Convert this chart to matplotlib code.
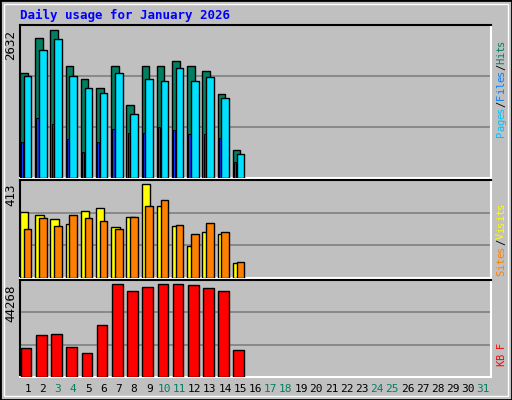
import matplotlib
matplotlib.use("Agg")
import matplotlib.pyplot as plt
import numpy as np

days = list(range(1, 32))
hits  = [1867, 2490, 2632, 1992, 1761, 1600, 1992, 1298, 1992, 1992, 2081, 1992, 1903, 1494, 498]
files = [1814, 2276, 2472, 1814, 1600, 1512, 1867, 1138, 1761, 1725, 1956, 1725, 1796, 1423, 427]
pages = [640, 1067, 960, 694, 462, 640, 871, 800, 800, 907, 854, 782, 782, 711, 285]
visits = [292, 278, 261, 238, 296, 309, 225, 269, 413, 318, 230, 141, 203, 194, 65]
sites  = [216, 265, 230, 278, 265, 252, 216, 269, 318, 341, 234, 194, 243, 203, 70]
kbytes = [13800, 20060, 20540, 14290, 11400, 24870, 44268, 40750, 42680, 44268, 44268, 43640, 42200, 40750, 12850]
weekend = {3, 4, 10, 11, 17, 18, 24, 25, 31}

W, H = 512, 400
fig = plt.figure(figsize=(W/100, H/100), dpi=100, facecolor="#c0c0c0")
mono = "DejaVu Sans Mono"

fig.add_artist(plt.Rectangle((0, 0), 1, 1, transform=fig.transFigure, fill=False, ec="black", lw=2))
fig.add_artist(plt.Rectangle((4/W, 4/H), 1-8/W, 1-8/H, transform=fig.transFigure, fill=False, ec="white", lw=1))
fig.text(20/W, 1-15/H, "Daily usage for January 2026", color="#0000ff", fontsize=9,
         fontweight="bold", family=mono, va="center")

def mkax(top, bottom):
    ax = fig.add_axes([20/W, 1-bottom/H, 471/W, (bottom-top)/H])
    ax.set_facecolor("#c0c0c0")
    ax.set_xlim(0.5, 31.5)
    ax.set_xticks([])
    ax.set_yticks([])
    for name, s in ax.spines.items():
        s.set_color("white" if name in ("right", "bottom") else "black")
        s.set_linewidth(1.5)
    return ax

def setup(ax, maxval, hpx, toppx, label):
    ylim = maxval * hpx / (hpx - toppx)
    ax.set_ylim(0, ylim)
    for f in (1/3, 2/3):
        ax.axhline(ylim*f, color="#808080", lw=1.2, zorder=1)
    ax.text(-0.006, 1-toppx/hpx, label, transform=ax.transAxes, rotation=90, ha="right",
            va="top", fontsize=9, family=mono)

x = np.arange(1, 16)
ax1 = mkax(25, 178)
setup(ax1, 2632, 153, 5, "2632")
ax1.bar(x-0.5, hits, width=0.5, align="edge", color="#008060", edgecolor="black", lw=1, zorder=3)
ax1.bar(x-0.42, pages, width=0.15, align="edge", color="#0040ff", edgecolor="black", lw=0.7, zorder=4)
ax1.bar(x-0.25, files, width=0.5, align="edge", color="#00e0ff", edgecolor="black", lw=1, zorder=5)

ax2 = mkax(180, 278)
setup(ax2, 413, 98, 4, "413")
ax2.bar(x-0.5, visits, width=0.55, align="edge", color="#ffff00", edgecolor="black", lw=1, zorder=3)
ax2.bar(x-0.25, sites, width=0.5, align="edge", color="#ff8000", edgecolor="black", lw=1, zorder=4)

ax3 = mkax(280, 377)
setup(ax3, 44268, 97, 4, "44268")
ax3.bar(x-0.45, kbytes, width=0.7, align="edge", color="#ff0000", edgecolor="black", lw=1, zorder=3)

for d in days:
    fig.text((20 + (d-0.5)*471/31)/W, 1-389/H, str(d), ha="center", va="center",
             fontsize=8, family=mono, color="#008060" if d in weekend else "black")

def rlabel(ypx, parts):
    y = ypx
    for txt, col in parts:
        for ch in txt:
            fig.text(501/W, 1-y/H, ch, rotation=90, ha="center", va="bottom",
                     fontsize=7.5, family=mono, color=col)
            y -= 6.1
rlabel(137, [("Pages", "#00c0ff"), ("/", "black"), ("Files", "#0080ff"), ("/", "black"), ("Hits", "#008060")])
rlabel(276, [("Sites", "#ff8000"), ("/", "black"), ("Visits", "#ffff00")])
rlabel(366, [("KB", "#ff0000"), (" ", "black"), ("F", "#ff0000")])

fig.savefig("out.png", dpi=100, facecolor=fig.get_facecolor())
